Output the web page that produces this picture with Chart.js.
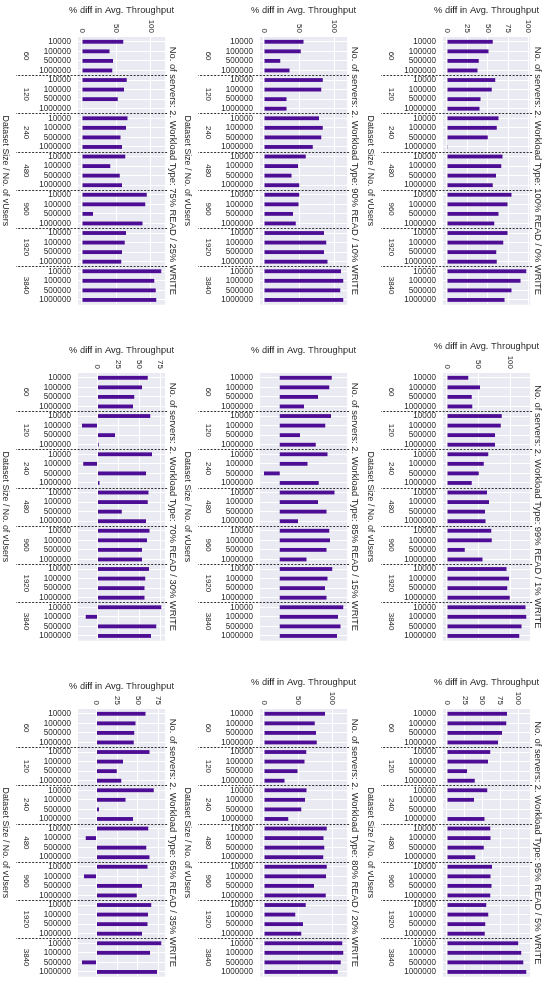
<!DOCTYPE html>
<html>
<head>
<meta charset="utf-8">
<title>% diff in Avg. Throughput by workload</title>
<script src="https://cdn.jsdelivr.net/npm/chart.js@4.4.1/dist/chart.umd.min.js"></script>
<style>
  html, body { margin: 0; padding: 0; background: #fff; overflow: hidden; }
  /* the figure is laid out landscape and turned a quarter turn clockwise */
  #page {
    position: absolute; left: 0; top: 0; width: 995px; height: 550px;
    transform-origin: 0 0; transform: translate(550px, 0) rotate(90deg);
  }
  #page canvas { position: absolute; }
</style>
</head>
<body>
<div id="page"></div>
<script>
// === Data ===
const datasetSizes = ["10000", "100000", "500000", "1000000"];
const vUsers = ["60", "120", "240", "480", "960", "1920", "3840"];
const workloads = [
  "100% READ / 0% WRITE", "99% READ / 1% WRITE", "95% READ / 5% WRITE",
  "90% READ / 10% WRITE", "85% READ / 15% WRITE", "80% READ / 20% WRITE",
  "75% READ / 25% WRITE", "70% READ / 30% WRITE", "65% READ / 35% WRITE"
];
// one value per (vUsers, dataset size), vUsers-major
const read100 = [56, 51, 39, 37.5, 59, 55, 41, 40, 63, 61, 50, 0.5, 68, 66.5, 60, 56, 79, 74, 63, 58, 74, 69, 60.5, 61, 97, 90, 79, 70.5];
const read99 = [33.5, 52, 39, 40, 86.5, 85, 76, 76, 65, 58, 50, 39, 63, 66.5, 60, 61, 70, 70.5, 28, 56, 94, 98, 95, 99, 124, 125, 117.5, 114];
const read95 = [84, 83, 77, 71.5, 60.5, 57.5, 28, 39, 56.5, 38, 0, 52.5, 60.5, 61, 51.5, 39.5, 63, 61, 62.5, 60.5, 55, 58, 53.5, 53, 100, 104, 107, 111];
const read90 = [56, 52, 23, 36, 83, 81, 32, 32, 78, 83, 81, 69, 59, 48, 39, 50, 50, 49, 41, 45, 85, 88, 85, 90, 109, 112, 108, 112];
const read85 = [60, 57, 44, 28, 59, 52.5, 23.5, 41.5, 55, 32, -18, 45, 63, 44, 54, 21, 57, 58, 54, 31, 60.5, 55, 52, 54, 73, 67, 70, 66];
const read80 = [89, 74, 76, 77, 61.5, 59, 49, 30, 62, 60, 54.5, 35.5, 91.5, 87, 88, 86.5, 91.5, 90.5, 73, 90, 61, 45.5, 57, 54.5, 114, 115.5, 112, 107.5];
const read75 = [60, 40, 45, 44, 65, 61, 52, 0, 66, 64, 56, 58, 63, 41, 55, 58, 94, 92, 16, 88, 64, 62, 58, 57, 115, 105, 107, 108];
const read70 = [60, 53, 44, 42.5, 63, -18.5, 21, 1.5, 65, -17, 58, 2.5, 61, 60, 29, 58, 62, 59, 53, 53, 61.5, 57, 56, 56, 76, -14, 70, 64];
const read65 = [59, 47, 45.5, 45, 64, 32, 24.5, 30, 69, 35, 3, 44, 62.5, -13, 60, 64, 61.5, -15, 55, 48.5, 66, 62, 61.5, 55, 78, 64.5, -17.5, 73];
const panelValues = [read100, read99, read95, read90, read85, read80, read75, read70, read65];
const tickSteps = [25, 50, 25, 50, 25, 50, 50, 25, 25];

// === Style ===
const FONT = "'Liberation Sans', Arial, sans-serif";
const TEXT = "#262626";
const BAR = "#4d0d94";
const BG = "#eaeaf2";
Chart.defaults.font.family = FONT;
Chart.defaults.color = TEXT;

const labels = [];
vUsers.forEach(() => datasetSizes.forEach((s) => labels.push(s)));

// plot area background (seaborn darkgrid)
const panelBg = {
  id: "panelBg",
  beforeDraw(chart) {
    const { ctx, chartArea: a } = chart;
    ctx.save();
    ctx.fillStyle = BG;
    ctx.fillRect(a.left, a.top, a.width, a.height);
    ctx.restore();
  },
};

// dashed group separators + vUsers labels under the dataset sizes
const groupMarks = {
  id: "groupMarks",
  afterDraw(chart) {
    const { ctx, chartArea: a } = chart;
    const x = chart.scales.x;
    ctx.save();
    ctx.strokeStyle = "#333";
    ctx.lineWidth = 1;
    ctx.setLineDash([2, 1.5]);
    for (let g = 1; g < vUsers.length; g++) {
      const px = Math.round(x.getPixelForValue(g * datasetSizes.length - 0.5)) + 0.5;
      ctx.beginPath();
      ctx.moveTo(px, a.top - 2);
      ctx.lineTo(px, a.bottom + 62);
      ctx.stroke();
    }
    ctx.setLineDash([]);
    ctx.fillStyle = TEXT;
    ctx.font = "8px " + FONT;
    ctx.textAlign = "center";
    ctx.textBaseline = "middle";
    vUsers.forEach((u, g) => {
      const cx = x.getPixelForValue(g * datasetSizes.length + (datasetSizes.length - 1) / 2);
      ctx.fillText(u, cx, a.bottom + 52);
    });
    ctx.restore();
  },
};

const page = document.getElementById("page");
const rowTops = [0, 183, 365];

panelValues.forEach((vals, i) => {
  const row = Math.floor(i / 3), col = i % 3;
  const cv = document.createElement("canvas");
  cv.width = 317;
  cv.height = 185;
  cv.style.left = col * 336 + "px";
  cv.style.top = rowTops[row] + "px";
  page.appendChild(cv);

  const step = tickSteps[i];
  const lo = Math.min(0, ...vals), hi = Math.max(0, ...vals);
  const pad = (hi - lo) * 0.05;
  const yMin = lo - pad, yMax = hi + pad;
  const topTick = Math.floor(yMax / step) * step;
  const yTitlePad = String(topTick).length >= 3 ? 4.4 : 8.4;

  new Chart(cv, {
    type: "bar",
    data: {
      labels,
      datasets: [
        {
          data: vals,
          backgroundColor: BAR,
          barPercentage: 0.4,
          categoryPercentage: 1,
        },
      ],
    },
    options: {
      responsive: false,
      animation: false,
      layout: { autoPadding: false, padding: 0 },
      plugins: {
        legend: { display: false },
        tooltip: { enabled: false },
        title: {
          display: true,
          fullSize: false,
          text: "No. of servers: 2. Workload Type: " + workloads[i],
          color: TEXT,
          font: { size: 9.4, weight: "normal" },
          padding: { top: 6.6, bottom: 2 },
        },
      },
      scales: {
        x: {
          grid: { color: "#fff", offset: false, drawTicks: false, lineWidth: 1 },
          border: { display: false },
          ticks: {
            autoSkip: false,
            minRotation: 90,
            maxRotation: 90,
            padding: 7,
            font: { size: 8.2 },
          },
          title: {
            display: true,
            text: "Dataset Size / No. of vUsers",
            font: { size: 8.8 },
            padding: { top: 0, bottom: 0.5 },
          },
          afterFit: (s) => { s.height = 78; },
        },
        y: {
          min: yMin,
          max: yMax,
          grid: { color: "#fff", drawTicks: false, lineWidth: 1 },
          border: { display: false },
          ticks: { stepSize: step, includeBounds: false, padding: 4, font: { size: 8 } },
          afterBuildTicks: (s) => {
            s.ticks = s.ticks.filter((t) => Math.abs(t.value % step) < 1e-9 && t.value >= s.min && t.value <= s.max);
          },
          title: {
            display: true,
            text: "% diff in Avg. Throughput",
            font: { size: 9.4 },
            padding: { top: yTitlePad, bottom: 0 },
          },
          afterFit: (s) => { s.width = 37; },
        },
      },
    },
    plugins: [panelBg, groupMarks],
  });
});
</script>
</body>
</html>
